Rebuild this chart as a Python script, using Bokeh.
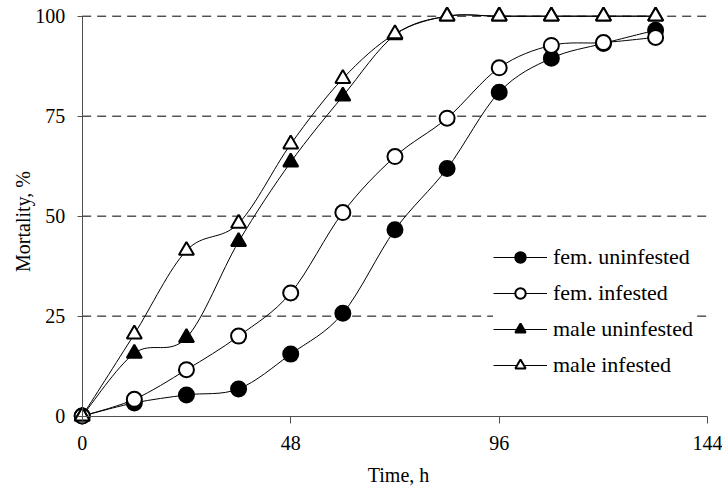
import math
from bokeh.plotting import figure
from bokeh.models import Range1d, FixedTicker, Legend, LegendItem, Label, ColumnDataSource
from bokeh.embed import file_html
from bokeh.resources import INLINE

# ---- data ----
time_h = [0, 12, 24, 36, 48, 60, 72, 84, 96, 108, 120, 132]
fem_uninfested = [0, 3.3, 5.3, 6.8, 15.5, 25.7, 46.6, 61.9, 81.0, 89.5, 93.2, 96.5]
fem_infested = [0, 4.2, 11.6, 20.0, 30.8, 50.9, 64.9, 74.5, 87.1, 92.7, 93.4, 94.7]
male_uninfested = [0, 15.7, 19.6, 43.6, 63.5, 80.0, 95.3, 100, 100, 100, 100, 100]
male_infested = [0, 20.5, 41.4, 48.2, 68.0, 84.4, 95.6, 100, 100, 100, 100, 100]

series_names = ["fem. uninfested", "fem. infested", "male uninfested", "male infested"]
x_ticks = [0, 48, 96, 144]
y_ticks = [0, 25, 50, 75, 100]
x_title = "Time, h"
y_title = "Mortality, %"

FONT = "Liberation Serif"

# ---- layout: the frame covers the whole canvas; axes sit at fixed locations ----
W, H = 722, 488
X0_PX, X_SCALE = 81.7, 4.344      # pixel of x=0, pixels per hour
Y0_PX, Y_SCALE = 415.6, 3.999     # pixel of y=0, pixels per percent

p = figure(width=W, height=H,
           x_range=Range1d(-X0_PX / X_SCALE, (W - X0_PX) / X_SCALE),
           y_range=Range1d((Y0_PX - H) / Y_SCALE, Y0_PX / Y_SCALE),
           output_backend="svg", toolbar_location=None,
           min_border=0, min_border_left=0, min_border_right=0, min_border_top=0, min_border_bottom=0,
           outline_line_color=None, background_fill_color="white", border_fill_color="white")

p.xgrid.visible = False
p.ygrid.visible = False

# dashed horizontal gridlines from the y axis to the end of the x axis
grid_y = y_ticks[1:]
p.segment(x0=[x_ticks[0]] * len(grid_y), x1=[x_ticks[-1]] * len(grid_y), y0=grid_y, y1=grid_y,
          line_color="black", line_width=1, line_dash="9 6")

# axes
for ax in (p.xaxis[0], p.yaxis[0]):
    ax.fixed_location = 0
    ax.axis_line_color = "#505050"
    ax.axis_line_width = 1
    ax.major_tick_line_color = "#505050"
    ax.minor_tick_line_color = None
    ax.major_label_text_font = FONT
    ax.major_label_text_font_size = "20px"
    ax.major_label_text_color = "black"

p.xaxis.ticker = FixedTicker(ticks=x_ticks)
p.yaxis.ticker = FixedTicker(ticks=y_ticks)
p.xaxis.bounds = (x_ticks[0], x_ticks[-1])
p.yaxis.bounds = (y_ticks[0], y_ticks[-1])
p.xaxis.major_tick_in = 0
p.xaxis.major_tick_out = 7
p.xaxis.major_label_standoff = 13
p.yaxis.major_tick_in = 5
p.yaxis.major_tick_out = 5
p.yaxis.major_label_standoff = 12


def smooth_parts(xs, ys):
    n = len(xs)
    d = dict(x0=[], y0=[], x1=[], y1=[], cx0=[], cy0=[], cx1=[], cy1=[])
    for i in range(n - 1):
        a = max(i - 1, 0)
        b = min(i + 2, n - 1)
        d["x0"].append(xs[i]); d["y0"].append(ys[i])
        d["x1"].append(xs[i + 1]); d["y1"].append(ys[i + 1])
        d["cx0"].append(xs[i] + (xs[i + 1] - xs[a]) / 6)
        d["cy0"].append(ys[i] + (ys[i + 1] - ys[a]) / 6)
        d["cx1"].append(xs[i + 1] - (xs[b] - xs[i]) / 6)
        d["cy1"].append(ys[i + 1] - (ys[b] - ys[i]) / 6)
    return d


series = [fem_uninfested, fem_infested, male_uninfested, male_infested]
markers = ["circle", "circle", "triangle", "triangle"]
fills = ["black", "white", "black", "white"]
sizes = [15, 15, 15, 15]

items = []
for name, ys, mk, fc, sz in zip(series_names, series, markers, fills, sizes):
    bz = p.bezier(x0="x0", y0="y0", x1="x1", y1="y1", cx0="cx0", cy0="cy0", cx1="cx1", cy1="cy1",
                  source=ColumnDataSource(smooth_parts(time_h, ys)),
                  line_color="black", line_width=1)
    sc = p.scatter(time_h, ys, marker=mk, size=sz, fill_color=fc, line_color="black", line_width=2)
    items.append(LegendItem(label=name, renderers=[bz, sc]))

legend = Legend(items=items, location=(493, 110), padding=10, spacing=10, margin=0,
                glyph_width=54, glyph_height=26, label_height=26, label_standoff=6,
                label_text_font=FONT, label_text_font_size="22px", label_text_color="black",
                border_line_color=None, background_fill_color="white", background_fill_alpha=1.0)
p.add_layout(legend)

p.add_layout(Label(x=(398 - X0_PX) / X_SCALE, y=(Y0_PX - 474) / Y_SCALE, text=x_title,
                   text_font=FONT, text_font_size="20px", text_color="black",
                   text_align="center", text_baseline="alphabetic"))
p.add_layout(Label(x=(22 - X0_PX) / X_SCALE, y=(Y0_PX - 221) / Y_SCALE, angle=math.pi / 2,
                   text=y_title, text_font=FONT, text_font_size="20px", text_color="black",
                   text_align="center", text_baseline="alphabetic"))

open("out.html", "w").write(file_html(p, INLINE))
